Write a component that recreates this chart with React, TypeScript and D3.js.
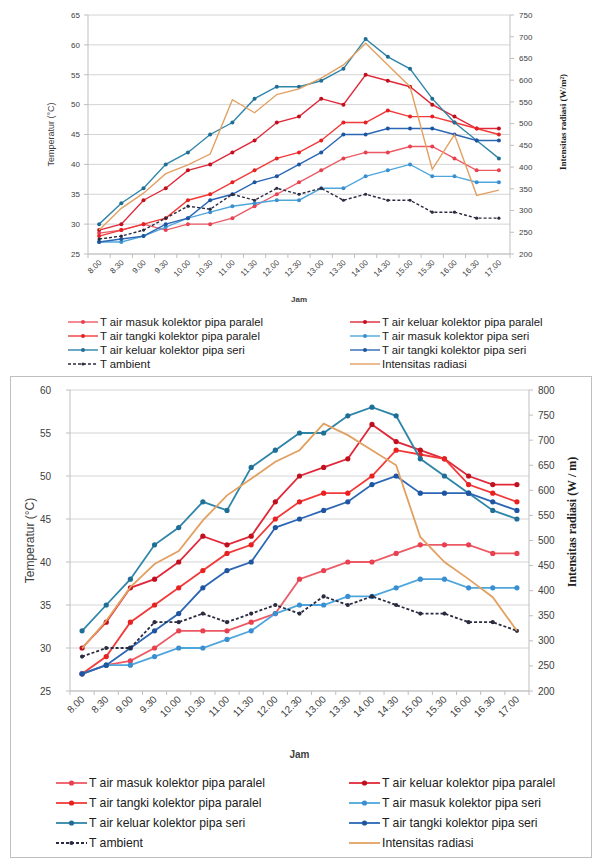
import React from 'react';
import * as d3 from 'd3';

const categories = ['8.00','8.30','9.00','9.30','10.00','10.30','11.00','11.30','12.00','12.30','13.00','13.30','14.00','14.30','15.00','15.30','16.00','16.30','17.00'];

const seriesNames = [
  'T air masuk kolektor pipa paralel',
  'T air keluar kolektor pipa paralel',
  'T air tangki kolektor pipa paralel',
  'T air masuk kolektor pipa seri',
  'T air keluar kolektor pipa seri',
  'T air tangki kolektor pipa seri',
  'T ambient',
  'Intensitas radiasi',
];

// Top chart values
const topMasukParalel = [28.5, 29, 30, 29, 30, 30, 31, 33, 35, 37, 39, 41, 42, 42, 43, 43, 41, 39, 39];
const topKeluarParalel = [29, 30, 34, 36, 39, 40, 42, 44, 47, 48, 51, 50, 55, 54, 53, 50, 48, 46, 46];
const topTangkiParalel = [28, 29, 30, 31, 34, 35, 37, 39, 41, 42, 44, 47, 47, 49, 48, 48, 47, 46, 45];
const topMasukSeri = [27, 27, 28, 29.5, 31, 32, 33, 33.5, 34, 34, 36, 36, 38, 39, 40, 38, 38, 37, 37];
const topKeluarSeri = [30, 33.5, 36, 40, 42, 45, 47, 51, 53, 53, 54, 56, 61, 58, 56, 51, 47, 44, 41];
const topTangkiSeri = [27, 27.5, 28, 30, 31, 34, 35, 37, 38, 40, 42, 45, 45, 46, 46, 46, 45, 44, 44];
const topAmbient = [27.5, 28, 29, 31, 33, 32.5, 35, 34, 36, 35, 36, 34, 35, 34, 34, 32, 32, 31, 31];
const topRadiasi = [255, 305, 340, 385, 405, 430, 555, 525, 567, 580, 605, 635, 685, 635, 585, 395, 475, 335, 347];

// Bottom chart values
const botMasukParalel = [27, 28, 28.5, 30, 32, 32, 32, 33, 34, 38, 39, 40, 40, 41, 42, 42, 42, 41, 41];
const botKeluarParalel = [30, 33, 37, 38, 40, 43, 42, 43, 47, 50, 51, 52, 56, 54, 53, 52, 50, 49, 49];
const botTangkiParalel = [27, 29, 33, 35, 37, 39, 41, 42, 45, 47, 48, 48, 50, 53, 52.5, 52, 49, 48, 47];
const botMasukSeri = [27, 28, 28, 29, 30, 30, 31, 32, 34, 35, 35, 36, 36, 37, 38, 38, 37, 37, 37];
const botKeluarSeri = [32, 35, 38, 42, 44, 47, 46, 51, 53, 55, 55, 57, 58, 57, 52, 50, 48, 46, 45];
const botTangkiSeri = [27, 28, 30, 32, 34, 37, 39, 40, 44, 45, 46, 47, 49, 50, 48, 48, 48, 47, 46];
const botAmbient = [29, 30, 30, 33, 33, 34, 33, 34, 35, 34, 36, 35, 36, 35, 34, 34, 33, 33, 32];
const botRadiasi = [285, 340, 407, 453, 479, 540, 590, 623, 657, 680, 733, 710, 680, 650, 507, 457, 423, 387, 320];

const topLeftTicks = [25, 30, 35, 40, 45, 50, 55, 60, 65];
const topRightTicks = [200, 250, 300, 350, 400, 450, 500, 550, 600, 650, 700, 750];
const botLeftTicks = [25, 30, 35, 40, 45, 50, 55, 60];
const botRightTicks = [200, 250, 300, 350, 400, 450, 500, 550, 600, 650, 700, 750, 800];

const colors = ['#EC5A66', '#E0283A', '#F23A3A', '#4FA6DC', '#2F85A8', '#2B67B5', '#2A2A40', '#E2A062'];
const markerColors = ['#E8404E', '#C0101E', '#E82020', '#3A8FD0', '#1F6E95', '#1F55A0', '#2A2A40', '#E2A062'];

const topCfg = {
  x0: 88, x1: 510, y0: 15, y1: 254,
  lDom: [25, 65], rDom: [200, 750], lTicks: topLeftTicks, rTicks: topRightTicks,
  tickFont: 8, xTickY: 263, leftLabelX: 80, rightLabelX: 519,
  leftTitleX: 54, rightTitleX: 566, rightTitleY: 122, titleFont: 9,
  jamY: 302, jamFont: 8,
  legendY0: 322, legendDy: 14, legendCols: [68, 350], legendFont: 11.3, lineLen: 30, markerR: 2,
  rightTitle: 'Intensitas radiasi (W/m\u00B2)', lineW: 1.4,
};
const botCfg = {
  x0: 70, x1: 529, y0: 390, y1: 691,
  lDom: [25, 60], rDom: [200, 800], lTicks: botLeftTicks, rTicks: botRightTicks,
  tickFont: 10, xTickY: 700, leftLabelX: 51, rightLabelX: 538,
  leftTitleX: 34, rightTitleX: 576, rightTitleY: 522, titleFont: 12,
  jamY: 758, jamFont: 10,
  legendY0: 783, legendDy: 20, legendCols: [56, 349], legendFont: 12.2, lineLen: 31, markerR: 2.6,
  rightTitle: 'Intensitas radiasi (W / m)', lineW: 1.8,
};

function Panel({ cfg, data }: { cfg: any; data: number[][] }) {
  const x = d3.scaleBand<string>().domain(categories).range([cfg.x0, cfg.x1]);
  const xc = (i: number) => (x(categories[i]) as number) + x.bandwidth() / 2;
  const yL = d3.scaleLinear().domain(cfg.lDom).range([cfg.y1, cfg.y0]);
  const yR = d3.scaleLinear().domain(cfg.rDom).range([cfg.y1, cfg.y0]);
  const lineL = d3.line<number>().x((_, i) => xc(i)).y((d) => yL(d));
  const lineR = d3.line<number>().x((_, i) => xc(i)).y((d) => yR(d));
  const grid = '#D4D4D4';
  const axisC = '#BFBFBF';
  const textC = '#404040';
  const font = 'Liberation Sans, Arial, sans-serif';

  return (
    <g>
      {cfg.lTicks.map((t: number) => (
        <line key={'g' + t} x1={cfg.x0} x2={cfg.x1} y1={yL(t)} y2={yL(t)} stroke={grid} strokeWidth={1} />
      ))}
      <line x1={cfg.x0} x2={cfg.x0} y1={cfg.y0} y2={cfg.y1} stroke={axisC} />
      <line x1={cfg.x1} x2={cfg.x1} y1={cfg.y0} y2={cfg.y1} stroke={axisC} />
      <line x1={cfg.x0} x2={cfg.x1} y1={cfg.y1} y2={cfg.y1} stroke={axisC} />
      {cfg.lTicks.map((t: number) => (
        <g key={'lt' + t}>
          <line x1={cfg.x0 - 4} x2={cfg.x0} y1={yL(t)} y2={yL(t)} stroke={axisC} />
          <text x={cfg.leftLabelX} y={yL(t)} dy="0.35em" textAnchor="end" fontSize={cfg.tickFont} fill={textC} fontFamily={font}>{t}</text>
        </g>
      ))}
      {cfg.rTicks.map((t: number) => (
        <g key={'rt' + t}>
          <line x1={cfg.x1} x2={cfg.x1 + 4} y1={yR(t)} y2={yR(t)} stroke={axisC} />
          <text x={cfg.rightLabelX} y={yR(t)} dy="0.35em" textAnchor="start" fontSize={cfg.tickFont} fill={textC} fontFamily={font}>{t}</text>
        </g>
      ))}
      {categories.map((c, i) => (
        <g key={'xt' + c}>
          <line x1={x(c) as number} x2={x(c) as number} y1={cfg.y1} y2={cfg.y1 + 4} stroke={axisC} />
          <text transform={`translate(${xc(i) + 3},${cfg.xTickY}) rotate(-45)`} textAnchor="end" fontSize={cfg.tickFont} fill={textC} fontFamily={font}>{c}</text>
        </g>
      ))}
      <line x1={cfg.x1} x2={cfg.x1} y1={cfg.y1} y2={cfg.y1 + 4} stroke={axisC} />
      <text x={(cfg.x0 + cfg.x1) / 2} y={cfg.jamY} textAnchor="middle" fontSize={cfg.jamFont} fontWeight="bold" fill={textC} fontFamily={font}>Jam</text>
      <text transform={`translate(${cfg.leftTitleX},${(cfg.y0 + cfg.y1) / 2}) rotate(-90)`} textAnchor="middle" fontSize={cfg.titleFont} fill={textC} fontFamily={font}>Temperatur (°C)</text>
      <text transform={`translate(${cfg.rightTitleX},${cfg.rightTitleY}) rotate(-90)`} textAnchor="middle" fontSize={cfg.titleFont} fontWeight="bold" fill="#202020" fontFamily="Liberation Serif, Times New Roman, serif">{cfg.rightTitle}</text>

      {data.map((vals, si) => {
        const isRad = si === 7;
        const isAmb = si === 6;
        const path = isRad ? lineR(vals) : lineL(vals);
        return (
          <g key={'s' + si}>
            <path d={path || ''} fill="none" stroke={colors[si]} strokeWidth={cfg.lineW} strokeDasharray={isAmb ? '3,2' : undefined} />
            {!isRad && vals.map((v, i) => (
              <circle key={i} cx={xc(i)} cy={yL(v)} r={isAmb ? cfg.markerR * 0.8 : cfg.markerR} fill={markerColors[si]} />
            ))}
          </g>
        );
      })}

      {seriesNames.map((name, si) => {
        const col = si % 2;
        const row = Math.floor(si / 2);
        const lx = cfg.legendCols[col];
        const ly = cfg.legendY0 + row * cfg.legendDy;
        const isRad = si === 7;
        const isAmb = si === 6;
        return (
          <g key={'lg' + si}>
            <line x1={lx} x2={lx + cfg.lineLen} y1={ly} y2={ly} stroke={colors[si]} strokeWidth={cfg.lineW} strokeDasharray={isAmb ? '3,2' : undefined} />
            {!isRad && <circle cx={lx + cfg.lineLen / 2} cy={ly} r={isAmb ? cfg.markerR * 0.8 : cfg.markerR} fill={markerColors[si]} />}
            <text x={lx + cfg.lineLen + 2} y={ly} dy="0.35em" fontSize={cfg.legendFont} fill="#202020" fontFamily={font}>{name}</text>
          </g>
        );
      })}
    </g>
  );
}

export default function App() {
  const topData = [topMasukParalel, topKeluarParalel, topTangkiParalel, topMasukSeri, topKeluarSeri, topTangkiSeri, topAmbient, topRadiasi];
  const botData = [botMasukParalel, botKeluarParalel, botTangkiParalel, botMasukSeri, botKeluarSeri, botTangkiSeri, botAmbient, botRadiasi];
  return (
    <svg width={597} height={859} style={{ position: 'absolute', left: 0, top: 0, background: '#fff' }}>
      <rect x={0} y={0} width={597} height={859} fill="#fff" />
      <rect x={10.5} y={376.5} width={581} height={481} fill="none" stroke="#BFBFBF" />
      <Panel cfg={topCfg} data={topData} />
      <Panel cfg={botCfg} data={botData} />
    </svg>
  );
}
